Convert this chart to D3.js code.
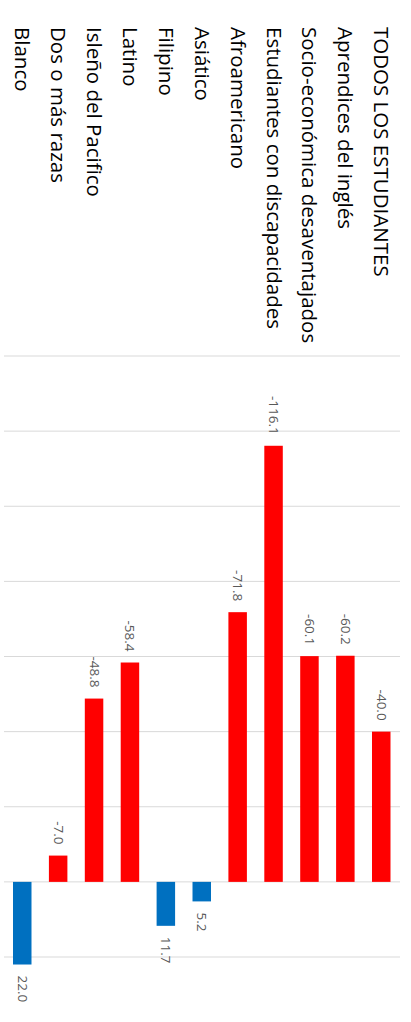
<!DOCTYPE html>
<html><head><meta charset="utf-8">
<script src="https://cdn.jsdelivr.net/npm/d3@7"></script>
<style>html,body{margin:0;padding:0;background:#fff;}svg{display:block;}</style>
</head><body>
<script>
const categories = ["TODOS LOS ESTUDIANTES","Aprendices del inglés","Socio-económica desaventajados","Estudiantes con discapacidades","Afroamericano","Asiático","Filipino","Latino","Isleño del Pacifico","Dos o más razas","Blanco"];
const values = [-40.0,-60.2,-60.1,-116.1,-71.8,5.2,11.7,-58.4,-48.8,-7.0,22.0];
const ticks = [-140,-120,-100,-80,-60,-40,-20,0,20];

const W = 411, H = 1022;
const svg = d3.select("body").append("svg").attr("width", W).attr("height", H);

const x = d3.scaleBand().domain(categories).range([399.2, 4.3]).paddingInner(0.485).paddingOuter(0.2425);
const y = d3.scaleLinear().domain([-140, 20]).range([356, 957]);

svg.append("g").selectAll("line").data(ticks).join("line")
  .attr("x1", 4).attr("x2", 400)
  .attr("y1", d => y(d)).attr("y2", d => y(d))
  .attr("stroke", "#d9d9d9").attr("stroke-width", 1);

svg.append("g").selectAll("rect").data(values).join("rect")
  .attr("x", (d, i) => x(categories[i]))
  .attr("width", x.bandwidth())
  .attr("y", d => Math.min(y(d), y(0)))
  .attr("height", d => Math.abs(y(d) - y(0)))
  .attr("fill", d => d < 0 ? "#ff0000" : "#0070c0");

svg.append("g").selectAll("text").data(values).join("text")
  .attr("transform", (d, i) => {
    const cx = x(categories[i]) + x.bandwidth() / 2 - 4.5;
    const yy = d < 0 ? y(d) - 11 : y(d) + 11;
    return `translate(${cx},${yy}) rotate(90)`;
  })
  .attr("text-anchor", d => d < 0 ? "end" : "start")
  .attr("font-family", "'Open Sans', sans-serif")
  .attr("font-size", 13.5)
  .attr("fill", "#595959")
  .text(d => d.toFixed(1));

svg.append("g").selectAll("text").data(categories).join("text")
  .attr("transform", d => `translate(${x(d) + x.bandwidth() / 2 - 7},27) rotate(90)`)
  .attr("text-anchor", "start")
  .attr("font-family", "'Open Sans', sans-serif")
  .attr("font-size", 20.5)
  .attr("fill", "#000")
  .text(d => d);
</script>
</body></html>
